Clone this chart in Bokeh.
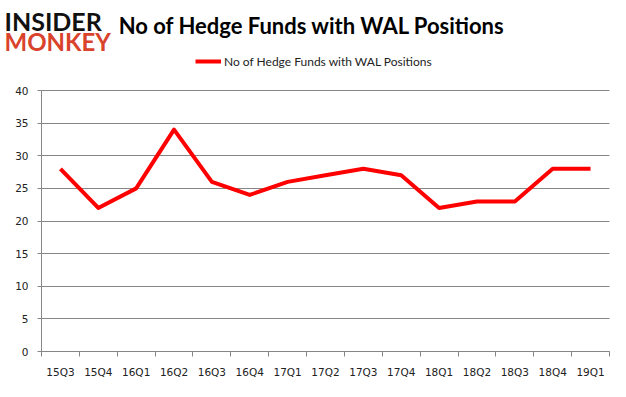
from bokeh.plotting import figure
from bokeh.models import (ColumnDataSource, FixedTicker, LinearAxis, Label, Legend, LegendItem, Range1d)
from bokeh.embed import file_html
from bokeh.resources import INLINE

quarters = ["15Q3", "15Q4", "16Q1", "16Q2", "16Q3", "16Q4", "17Q1", "17Q2",
            "17Q3", "17Q4", "18Q1", "18Q2", "18Q3", "18Q4", "19Q1"]
hedge_funds = [28, 22, 25, 34, 26, 24, 26, 27, 28, 27, 22, 23, 23, 28, 28]
y_ticks = [0, 5, 10, 15, 20, 25, 30, 35, 40]
series_name = "No of Hedge Funds with WAL Positions"
title_text = "No of Hedge Funds with WAL Positions"

GRAY = "#868686"
FONT = "DejaVu Sans"

n = len(quarters)
y_max = y_ticks[-1]
xs = [i + 0.5 for i in range(n)]
src = ColumnDataSource(dict(x=xs, y=hedge_funds, q=quarters))

# the frame fills the whole canvas; the plot area (0..n, 0..y_max) sits
# at pixels x 41..609, y 90..351, with header and labels around it
W, H = 610, 386
PX_L, PX_R, PX_T, PX_B = 41, 609, 90, 351
kx = (PX_R - PX_L) / n
ky = (PX_B - PX_T) / y_max
x_range = Range1d(-PX_L / kx, n + (W - PX_R) / kx)
y_range = Range1d(-(H - PX_B) / ky, y_max + PX_T / ky)

def dx(px):
    return (px - PX_L) / kx

def dy(py):
    return (PX_B - py) / ky

p = figure(width=W, height=H, output_backend="svg", toolbar_location=None,
           x_range=x_range, y_range=y_range,
           x_axis_location=None, y_axis_location=None,
           min_border=0)
p.outline_line_color = None
p.background_fill_color = "white"
p.border_fill_color = "white"

r = p.line("x", "y", source=src, line_color="#ff0000", line_width=4, line_join="round")

# y axis
yax = LinearAxis(ticker=FixedTicker(ticks=y_ticks), fixed_location=0, bounds=(0, y_max))
yax.axis_line_color = GRAY
yax.major_tick_line_color = GRAY
yax.major_tick_out = 4
yax.major_tick_in = 0
yax.minor_tick_line_color = None
yax.major_label_text_font = FONT
yax.major_label_text_font_size = "10.5px"
yax.major_label_text_color = "#222222"
yax.major_label_standoff = 9
p.add_layout(yax, "left")

# x axis: tick marks at category boundaries
xax1 = LinearAxis(ticker=FixedTicker(ticks=list(range(n + 1))), fixed_location=0, bounds=(0, n))
xax1.axis_line_color = GRAY
xax1.major_tick_line_color = GRAY
xax1.major_tick_out = 5
xax1.major_tick_in = 0
xax1.minor_tick_line_color = None
xax1.major_label_overrides = {i: "" for i in range(n + 1)}
xax1.major_label_text_font_size = "0px"
xax1.major_label_standoff = 0
p.add_layout(xax1, "below")

# x axis: category labels at centers
xax2 = LinearAxis(ticker=FixedTicker(ticks=xs), fixed_location=0, bounds=(0, n))
xax2.axis_line_color = None
xax2.major_tick_line_color = None
xax2.major_tick_out = 0
xax2.major_tick_in = 0
xax2.minor_tick_line_color = None
xax2.major_label_overrides = {x: q for x, q in zip(xs, quarters)}
xax2.major_label_text_font = FONT
xax2.major_label_text_font_size = "10.5px"
xax2.major_label_text_color = "#222222"
xax2.major_label_standoff = 14
p.add_layout(xax2, "below")

p.ygrid.ticker = FixedTicker(ticks=y_ticks)
p.ygrid.grid_line_color = GRAY
p.ygrid.cross_bounds = (0, n)
p.xgrid.grid_line_color = None

legend = Legend(items=[LegendItem(label=series_name, renderers=[r])],
                location=(195, 315), orientation="horizontal",
                glyph_width=26, label_standoff=3, padding=0, margin=0,
                border_line_color=None, background_fill_alpha=0,
                label_text_font="Lato", label_text_font_size="12px",
                label_text_color="#222222")
p.add_layout(legend, "center")

p.add_layout(Label(x=dx(311.5), y=dy(25), text=title_text,
                   text_font="Lato", text_font_style="bold", text_font_size="22px",
                   text_align="center", text_baseline="alphabetic", text_color="#000000"))
p.add_layout(Label(x=dx(4), y=dy(20), text="INSIDER",
                   text_font="Lato", text_font_style="bold", text_font_size="25px",
                   text_align="left", text_baseline="alphabetic", text_color="#111111"))
p.add_layout(Label(x=dx(4), y=dy(41), text="MONKEY",
                   text_font="Lato", text_font_style="bold", text_font_size="24px",
                   text_align="left", text_baseline="alphabetic", text_color="#d9432b"))

open("out.html", "w").write(file_html(p, INLINE))
